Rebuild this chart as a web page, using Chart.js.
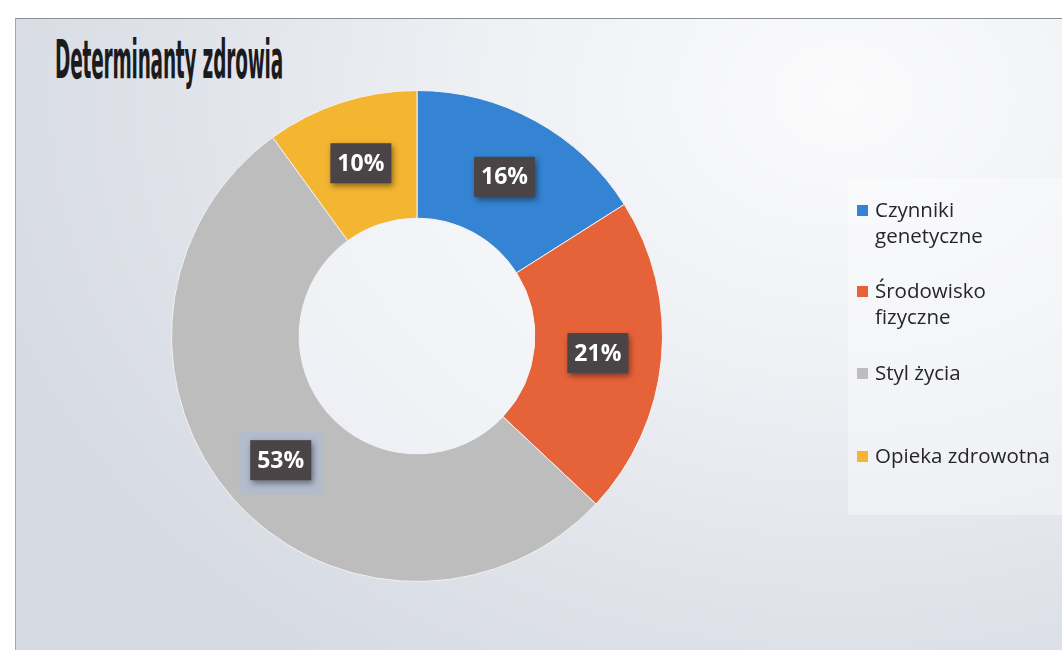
<!DOCTYPE html>
<html>
<head>
<meta charset="utf-8">
<script src="https://cdn.jsdelivr.net/npm/chart.js@4"></script>
<style>
  body { margin: 0; background: #fff; }
  #wrap { position: relative; width: 1062px; height: 650px; overflow: hidden; background: #fff; }
  #frame {
    position: absolute; left: 15px; top: 18px; width: 1060px; height: 640px;
    border-top: 1px solid #8d9099; border-left: 1px solid #a3a6ae;
    background: radial-gradient(ellipse 900px 700px at 78% 12%, #fbfbfc 0%, #eef0f4 40%, #dfe2e9 75%, #d6dae2 100%);
  }
  #title {
    position: absolute; left: 55px; top: 29px; transform-origin: 0 0;
    font: bold 53px 'Liberation Sans Narrow', 'DejaVu Sans Condensed', sans-serif;
    color: #1b1b1d; white-space: nowrap; letter-spacing: -0.5px;
  }
  #legendBox { position: absolute; left: 848px; top: 178px; width: 214px; height: 337px; background: rgba(255,255,255,0.35); }
  .item { position: absolute; left: 857px; display: flex; align-items: flex-start;
    font: 20.5px 'Open Sans', sans-serif; line-height: 26px; color: #262628; }
  .sw { width: 11px; height: 11px; margin-top: 9px; margin-right: 7px; flex: none; }
  canvas { position: absolute; left: 0; top: 0; }
</style>
</head>
<body>
<div id="wrap">
  <div id="frame"></div>
  <div id="title">Determinanty zdrowia</div>
  <div id="legendBox"></div>
  <canvas id="c" width="1062" height="650"></canvas>
</div>
<script>
const categories = ['Czynniki genetyczne', 'Środowisko fizyczne', 'Styl życia', 'Opieka zdrowotna'];
const legendLines = [['Czynniki', 'genetyczne'], ['Środowisko', 'fizyczne'], ['Styl życia'], ['Opieka zdrowotna']];
const shares = [16, 21, 53, 10];
const colors = ['#3584d4', '#e6633a', '#bdbdbd', '#f4b531'];
const legendTops = [196, 277, 359, 442];

// title squeezed to the condensed width of the original
const t = document.getElementById('title');
t.style.transform = 'scaleX(' + (228 / t.offsetWidth) + ')';

// legend
const wrap = document.getElementById('wrap');
categories.forEach((c, i) => {
  const d = document.createElement('div');
  d.className = 'item';
  d.style.top = legendTops[i] + 'px';
  d.innerHTML = '<div class="sw" style="background:' + colors[i] + '"></div><div>' + legendLines[i].join('<br>') + '</div>';
  wrap.appendChild(d);
});

const boxLabels = {
  id: 'boxLabels',
  beforeDatasetsDraw(chart) {
    // hole a bit lighter than the backdrop, like the original
    const a = chart.getDatasetMeta(0).data[0];
    const p = a.getProps(['x', 'y', 'innerRadius']);
    const ctx = chart.ctx;
    ctx.save();
    ctx.fillStyle = 'rgba(250,251,253,0.55)';
    ctx.beginPath();
    ctx.arc(p.x, p.y, p.innerRadius, 0, Math.PI * 2);
    ctx.fill();
    ctx.restore();
  },
  afterDatasetsDraw(chart) {
    const ctx = chart.ctx;
    const meta = chart.getDatasetMeta(0);
    meta.data.forEach((arc, i) => {
      const p = arc.getProps(['x', 'y', 'startAngle', 'endAngle', 'innerRadius', 'outerRadius']);
      const mid = (p.startAngle + p.endAngle) / 2;
      const r = (p.innerRadius + p.outerRadius) / 2;
      const x = p.x + Math.cos(mid) * r;
      const y = p.y + Math.sin(mid) * r + (i === 2 ? 4 : 0);
      const w = 61, h = 40;
      ctx.save();
      if (i === 2) {
        ctx.fillStyle = 'rgba(178,188,206,0.95)';
        ctx.fillRect(x - w / 2 - 11, y - h / 2 - 8, w + 22, h + 22);
      }
      ctx.shadowColor = 'rgba(0,0,0,0.45)';
      ctx.shadowBlur = 6;
      ctx.shadowOffsetX = 2;
      ctx.shadowOffsetY = 3;
      ctx.fillStyle = '#4a4447';
      ctx.fillRect(x - w / 2, y - h / 2, w, h);
      ctx.shadowColor = 'transparent';
      ctx.fillStyle = '#ffffff';
      ctx.font = "bold 23px 'Open Sans', sans-serif";
      ctx.textAlign = 'center';
      ctx.textBaseline = 'middle';
      ctx.fillText(chart.data.datasets[0].data[i] + '%', x, y + 1);
      ctx.restore();
    });
  }
};

new Chart(document.getElementById('c'), {
  type: 'doughnut',
  data: {
    labels: categories,
    datasets: [{ data: shares, backgroundColor: colors, borderColor: '#f2f2f2', borderWidth: 1 }]
  },
  options: {
    responsive: false,
    animation: false,
    cutout: '48%',
    layout: { padding: { left: 171, right: 399, top: 90, bottom: 68 } },
    plugins: { legend: { display: false }, tooltip: { enabled: false }, title: { display: false } }
  },
  plugins: [boxLabels]
});
</script>
</body>
</html>
